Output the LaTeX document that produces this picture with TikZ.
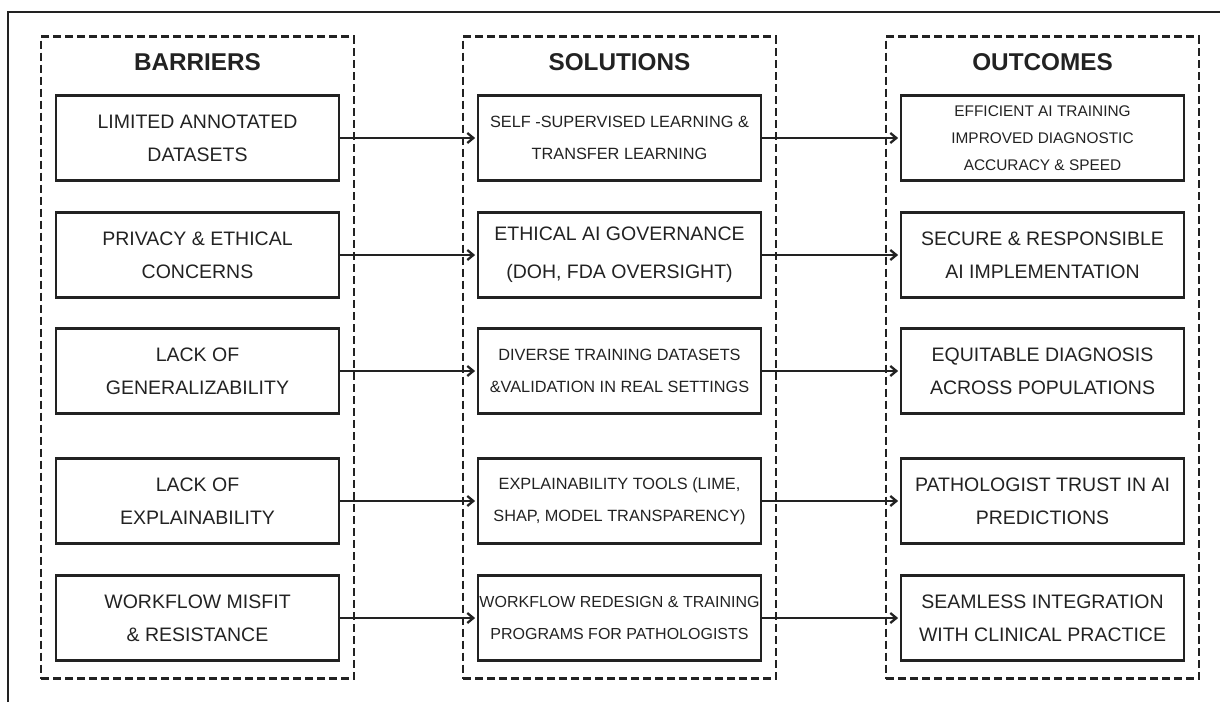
\documentclass[tikz,border=0pt]{standalone}
\usepackage{fontspec}
\setmainfont{Liberation Sans}
\usetikzlibrary{arrows.meta}
\definecolor{ink}{HTML}{222222}

\begin{document}
\begin{tikzpicture}[x=1pt,y=-1pt,color=ink,text=ink]
    \useasboundingbox (0,0) rectangle (1220,702);
    \draw[line width=1.2pt] (8,702) -- (8,12) -- (1220,12);

    % the three dashed columns and their titles
    \begin{scope}[every node/.style={draw,dash pattern=on 8pt off 4pt,line width=2.4pt,minimum width=313pt,minimum height=642pt,inner sep=0pt}]
        \node (bcol) at (197.5,357.5) {};
        \node (scol) at (619.5,357.5) {};
        \node (ocol) at (1042.5,357.5) {};
    \end{scope}
    \begin{scope}[every node/.style={font=\bfseries\fontsize{24.3}{28}\selectfont}]
        \node (bhead) at (197.5,62) {BARRIERS};
        \node (shead) at (619.5,62) {SOLUTIONS};
        \node (ohead) at (1042.5,62) {OUTCOMES};
    \end{scope}

    \begin{scope}[every node/.style={draw,line width=2.8pt,minimum width=283pt,minimum height=85pt,inner sep=0pt,align=center,font=\fontsize{19.5}{33}\selectfont}]
        \node (b1) at (197.5,138) {LIMITED ANNOTATED\\DATASETS};
        \node (b2) at (197.5,255) {PRIVACY \& ETHICAL\\CONCERNS};
        \node (b3) at (197.5,371) {LACK OF\\GENERALIZABILITY};
        \node (b4) at (197.5,501) {LACK OF\\EXPLAINABILITY};
        \node (b5) at (197.5,618) {WORKFLOW MISFIT\\\& RESISTANCE};

        \node[font=\fontsize{16.3}{32}\selectfont] (s1) at (619.5,138) {SELF -SUPERVISED LEARNING \&\\TRANSFER LEARNING};
        \node[font=\fontsize{19.5}{38}\selectfont] (s2) at (619.5,255) {ETHICAL AI GOVERNANCE\\(DOH, FDA OVERSIGHT)};
        \node[font=\fontsize{16.3}{32}\selectfont] (s3) at (619.5,371) {DIVERSE TRAINING DATASETS\\\&VALIDATION IN REAL SETTINGS};
        \node[font=\fontsize{16.3}{32}\selectfont] (s4) at (619.5,501) {EXPLAINABILITY TOOLS (LIME,\\SHAP, MODEL TRANSPARENCY)};
        \node[font=\fontsize{16}{32}\selectfont] (s5) at (619.5,618) {WORKFLOW REDESIGN \& TRAINING\\PROGRAMS FOR PATHOLOGISTS};

        \node[font=\fontsize{15.4}{27}\selectfont] (o1) at (1042.5,138) {EFFICIENT AI TRAINING\\IMPROVED DIAGNOSTIC\\ACCURACY \& SPEED};
        \node (o2) at (1042.5,255) {SECURE \& RESPONSIBLE\\AI IMPLEMENTATION};
        \node (o3) at (1042.5,371) {EQUITABLE DIAGNOSIS\\ACROSS POPULATIONS};
        \node (o4) at (1042.5,501) {PATHOLOGIST TRUST IN AI\\PREDICTIONS};
        \node (o5) at (1042.5,618) {SEAMLESS INTEGRATION\\WITH CLINICAL PRACTICE};
    \end{scope}

    \begin{scope}[line width=2.3pt,-{Straight Barb[length=6pt,width=10pt]},shorten >=1.5pt]
        \foreach \n in {1,...,5} {
            \draw (b\n.east)--(s\n.west);
            \draw (s\n.east)--(o\n.west);
        }
    \end{scope}
\end{tikzpicture}
\end{document}
